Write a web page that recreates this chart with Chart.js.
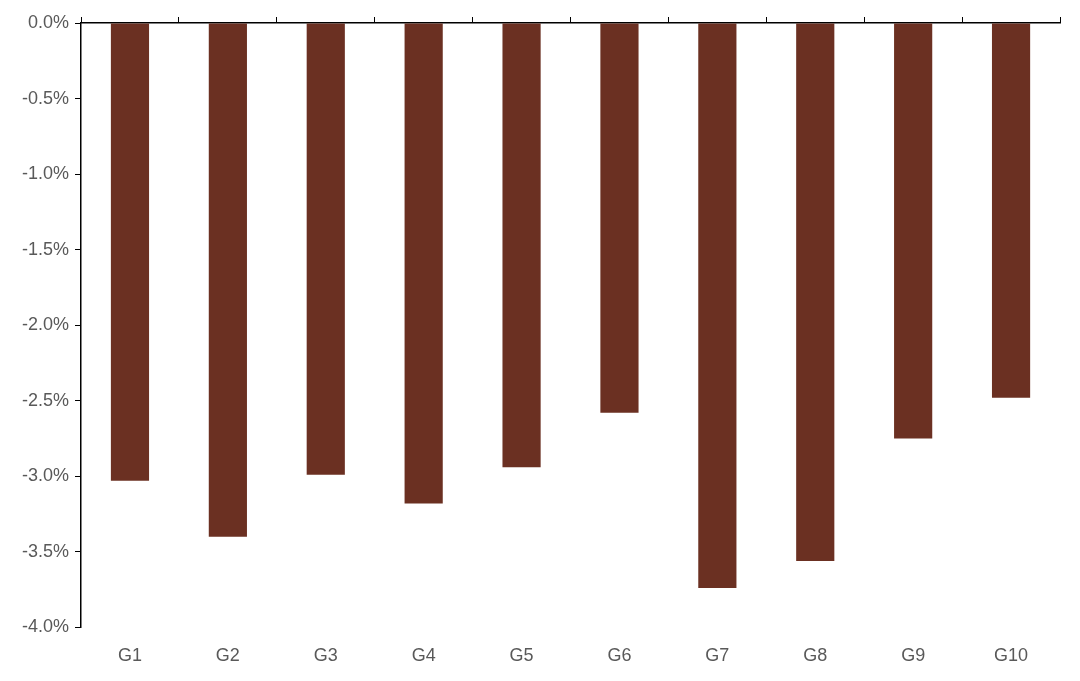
<!DOCTYPE html>
<html>
<head>
<meta charset="utf-8">
<script src="https://cdn.jsdelivr.net/npm/chart.js@4"></script>
<style>
  body { margin: 0; background: #fff; }
  #wrap { width: 1080px; height: 681px; }
</style>
</head>
<body>
<div id="wrap"><canvas id="chart"></canvas></div>
<script>
const categories = ['G1', 'G2', 'G3', 'G4', 'G5', 'G6', 'G7', 'G8', 'G9', 'G10'];
const values = [-3.03, -3.40, -2.99, -3.18, -2.94, -2.58, -3.74, -3.56, -2.75, -2.48];

const tickColor = '#595959';
const tickFont = { family: 'Liberation Sans, Arial', size: 18 };

new Chart(document.getElementById('chart').getContext('2d'), {
    type: 'bar',
    data: {
        labels: categories,
        datasets: [{
            data: values,
            backgroundColor: '#6B3022',
            barPercentage: 0.39,
            categoryPercentage: 1,
            xAxisID: 'x',
        }]
    },
    options: {
        responsive: true,
        maintainAspectRatio: false,
        animation: false,
        layout: { padding: { top: 17, right: 20, left: 16, bottom: 4 } },
        plugins: { legend: { display: false }, tooltip: { enabled: false } },
        scales: {
            x: {
                position: 'bottom',
                grid: { display: false },
                border: { display: false },
                ticks: { color: tickColor, font: tickFont, padding: 10 },
            },
            xTop: {
                type: 'category',
                labels: categories,
                position: 'top',
                offset: true,
                grid: { offset: true, drawOnChartArea: false, tickLength: 6, color: '#000' },
                border: { color: '#000', width: 1.5 },
                ticks: { display: false },
            },
            y: {
                min: -4,
                max: 0,
                grid: { drawOnChartArea: false, tickLength: 6, color: '#000' },
                border: { color: '#000', width: 1.5 },
                ticks: {
                    stepSize: 0.5,
                    color: tickColor,
                    font: tickFont,
                    padding: 6,
                    callback: v => v.toFixed(1) + '%',
                },
            }
        }
    }
});
</script>
</body>
</html>
